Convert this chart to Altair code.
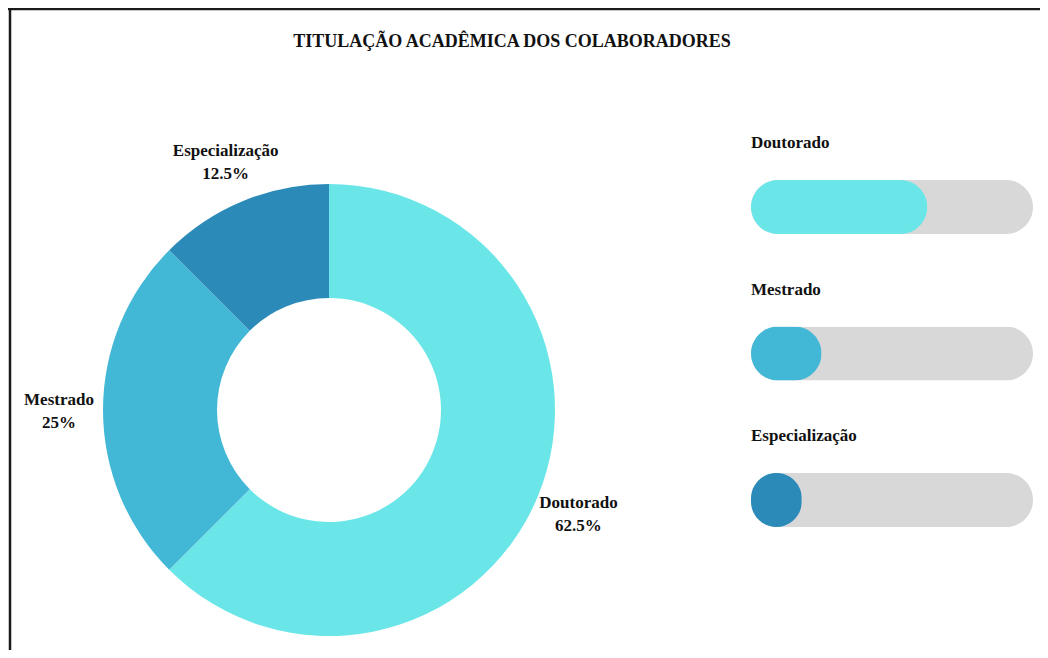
import altair as alt
import pandas as pd

TITULO = "TITULAÇÃO ACADÊMICA DOS COLABORADORES"
categorias = ["Doutorado", "Mestrado", "Especialização"]
percentuais = [62.5, 25, 12.5]
cores = ["#6be6e8", "#42b8d6", "#2b8ab8"]
ordem = [0, 1, 2]

df = pd.DataFrame({"categoria": categorias, "valor": percentuais, "ordem": ordem})
df["rotulo"] = [f"{c}\n{v:g}%" for c, v in zip(categorias, percentuais)]

W, H = 1032, 642
CX, CY = 321, 402
FONT = "Liberation Serif"

cor = alt.Color("categoria:N", scale=alt.Scale(domain=categorias, range=cores), legend=None)
base = alt.Chart(df)

donut = base.mark_arc(outerRadius=226, innerRadius=112).encode(
    theta=alt.Theta("valor:Q", stack=True),
    color=cor,
    order=alt.Order("ordem:Q"),
    x=alt.value(CX),
    y=alt.value(CY),
)

rotulos = base.mark_text(
    radius=270, font=FONT, fontSize=17, fontWeight="bold", lineBreak="\n",
    lineHeight=23, align="center", baseline="middle", dy=-10, color="#111111"
).encode(
    theta=alt.Theta("valor:Q", stack=True),
    order=alt.Order("ordem:Q"),
    text="rotulo:N",
    x=alt.value(CX),
    y=alt.value(CY),
)

yband = alt.Y(
    "categoria:N", sort=categorias,
    scale=alt.Scale(domain=categorias, range=[172, 519], paddingInner=0.631, paddingOuter=0),
    axis=None,
)
xbar = alt.Scale(domain=[0, 1], range=[743, 1025])

trilha = base.transform_calculate(cheio="1").mark_bar(cornerRadius=27, color="#d8d8d8").encode(
    x=alt.X("cheio:Q", scale=xbar, axis=None),
    y=yband,
)

preenchimento = base.transform_calculate(
    preench="max(datum.valor / 100, 0.18)"
).mark_bar(cornerRadius=27).encode(
    x=alt.X("preench:Q", scale=xbar, axis=None),
    y=yband,
    color=cor,
)

cabecalhos = base.mark_text(
    align="left", baseline="middle", dy=-64, font=FONT, fontSize=17,
    fontWeight="bold", color="#111111"
).encode(
    x=alt.value(743),
    y=yband,
    text="categoria:N",
)

vazio = alt.Data(values=[{"k": 0}])
titulo = alt.Chart(vazio).mark_text(
    font=FONT, fontSize=18, fontWeight="bold", align="center", baseline="middle", color="#111111"
).encode(x=alt.value(504), y=alt.value(34), text=alt.value(TITULO))

borda_topo = alt.Chart(vazio).mark_rule(color="#1a1a1a", strokeWidth=2.5).encode(
    x=alt.value(0), x2=alt.value(W), y=alt.value(1)
)
borda_esq = alt.Chart(vazio).mark_rule(color="#1a1a1a", strokeWidth=2.5).encode(
    x=alt.value(2), y=alt.value(0), y2=alt.value(H)
)

chart = alt.layer(
    donut, rotulos, trilha, preenchimento, cabecalhos, titulo, borda_topo, borda_esq
).properties(
    width=W, height=H, autosize="none", padding=0
).configure_view(stroke=None)

chart.save("out.html", embed_options={"renderer": "svg", "actions": False})
